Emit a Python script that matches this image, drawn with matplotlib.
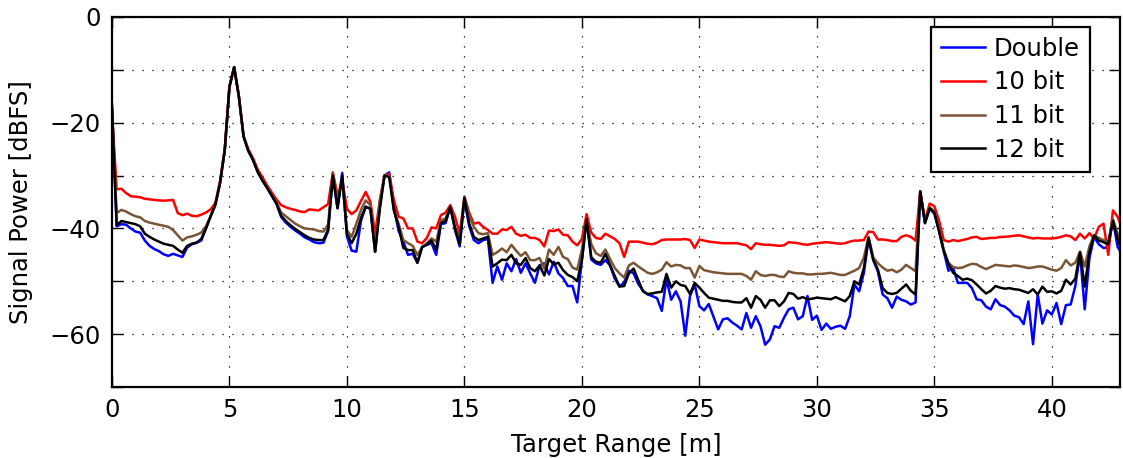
import numpy as np
import matplotlib
matplotlib.use("Agg")
import matplotlib.pyplot as plt
from matplotlib.ticker import MultipleLocator, FuncFormatter

# target range grid [m], one sample every 0.2 m
step_m = 0.2
n_pts = 216
range_m = np.arange(n_pts) * step_m

# signal power [dBFS]
double = [
    -16.5, -39.6, -39.2, -39.3, -40.0, -40.6, -40.8, -42.3, -43.3, -43.9,
    -44.3, -44.9, -45.2, -44.8, -45.1, -45.4, -43.6, -43.0, -42.7, -42.3,
    -40.0, -37.7, -35.5, -31.4, -25.2, -13.2, -9.5, -15.0, -22.6, -25.3,
    -27.0, -29.3, -30.9, -32.3, -33.8, -35.3, -37.8, -38.9, -39.7, -40.4,
    -41.0, -41.7, -42.1, -42.6, -42.8, -42.7, -40.5, -30.0, -36.2, -29.5,
    -41.5, -44.2, -44.4, -38.5, -35.9, -36.3, -44.4, -35.6, -30.0, -29.4,
    -36.0, -40.5, -42.5, -45.0, -44.8, -46.5, -43.5, -43.1, -42.8, -45.0,
    -39.2, -39.0, -35.9, -40.3, -43.4, -34.5, -39.5, -42.2, -42.8, -42.2,
    -42.0, -50.3, -47.2, -49.7, -46.6, -48.1, -45.8, -48.4, -46.6, -48.5,
    -50.3, -47.0, -46.6, -48.7, -46.3, -48.5, -49.4, -50.9, -50.9, -54.0,
    -46.0, -38.3, -45.9, -46.6, -46.9, -46.0, -47.0, -49.5, -51.0, -50.2,
    -48.0, -48.5, -50.5, -51.8, -52.5, -52.8, -53.2, -55.6, -49.6, -53.5,
    -51.9, -53.8, -60.3, -52.8, -50.6, -54.7, -55.5, -54.3, -56.7, -59.1,
    -57.2, -57.0, -57.8, -58.4, -59.1, -56.0, -58.8, -56.6, -58.5, -62.0,
    -61.0, -58.5, -58.8, -56.9, -55.3, -55.0, -57.2, -56.6, -52.8, -57.3,
    -56.5, -59.2, -58.0, -59.0, -58.6, -58.4, -59.0, -56.6, -50.6, -51.9,
    -48.4, -42.0, -46.0, -48.2, -52.5, -53.2, -55.0, -52.9, -53.5, -53.8,
    -54.4, -54.0, -33.0, -39.0, -36.3, -37.2, -40.5, -44.3, -48.0, -47.5,
    -50.3, -50.3, -50.3, -51.3, -53.4, -53.6, -54.8, -55.3, -53.4, -54.5,
    -54.8, -55.5, -56.5, -56.8, -58.1, -53.8, -61.9, -52.5, -58.0, -55.5,
    -56.3, -54.1, -58.1, -54.5, -54.4, -50.9, -44.7, -55.3, -45.6, -41.6,
    -43.0, -43.7, -43.6, -38.4, -43.5, -45.0,
]

bit10 = [
    -18.0, -32.6, -32.5, -33.3, -33.9, -34.0, -34.1, -34.4, -34.5, -34.6,
    -34.7, -34.75, -34.7, -34.6, -37.1, -37.5, -37.2, -37.6, -37.7, -37.4,
    -37.0, -36.4, -35.2, -31.0, -25.0, -13.2, -9.5, -15.0, -22.5, -25.0,
    -26.7, -28.8, -30.3, -31.8, -33.2, -34.5, -35.6, -36.0, -36.3, -36.5,
    -36.8, -36.9, -36.4, -36.5, -36.6, -36.0, -35.4, -29.4, -33.75, -31.0,
    -36.3, -37.3, -36.6, -34.8, -33.1, -35.0, -41.0, -34.7, -30.0, -29.7,
    -34.7, -37.8, -38.1, -40.0, -40.0, -42.5, -42.8, -41.8, -39.8, -40.0,
    -37.5, -37.0, -35.6, -37.8, -41.0, -34.0, -37.0, -39.1, -38.9, -39.7,
    -40.3, -41.0, -41.0, -40.2, -40.3, -39.7, -41.0, -41.4, -41.2, -41.8,
    -41.8, -42.2, -43.4, -40.4, -40.5, -40.2, -41.2, -41.3, -42.5, -43.2,
    -42.0, -37.3, -40.8, -41.8, -42.0, -41.0, -41.5, -42.0, -42.8, -45.4,
    -42.5, -42.5, -42.5, -42.7, -42.9, -43.0, -42.7, -42.2, -42.1, -42.1,
    -42.1, -42.1, -42.0, -42.2, -43.7, -42.1, -42.3, -42.5, -42.6, -42.7,
    -42.8, -42.8, -42.8, -42.8, -43.0, -43.2, -43.9, -42.8, -43.0, -43.1,
    -43.1, -43.2, -43.3, -43.2, -42.6, -42.7, -42.8, -43.0, -43.1, -42.9,
    -42.8, -42.7, -42.6, -42.7, -42.8, -42.9, -42.8, -42.5, -42.3, -42.3,
    -42.2, -40.6, -40.7, -42.1, -42.1, -42.2, -42.4, -42.4, -41.6, -41.3,
    -41.6, -42.3, -33.0, -38.5, -35.3, -35.8, -38.5, -42.2, -42.5, -42.2,
    -42.4, -42.2, -42.0, -41.7, -41.6, -42.0, -41.9, -41.8, -41.8, -41.6,
    -41.6, -41.5, -41.4, -41.3, -41.5, -41.7, -41.9, -41.8, -41.9, -41.9,
    -41.9, -41.8, -41.6, -41.3, -41.5, -42.2, -41.0, -41.9, -40.9, -41.9,
    -39.7, -39.1, -45.0, -36.6, -37.8, -40.0,
]

bit11 = [
    -17.5, -37.1, -36.5, -36.8, -37.3, -37.7, -37.9, -38.6, -38.9, -39.1,
    -39.3, -39.5, -39.7, -40.3, -41.3, -42.3, -41.7, -41.5, -41.2, -40.8,
    -39.6, -37.7, -35.5, -31.4, -25.2, -13.2, -9.5, -15.0, -22.6, -25.2,
    -27.0, -29.2, -30.8, -32.1, -33.6, -35.0, -37.0, -37.7, -38.4, -39.1,
    -39.6, -40.0, -40.1, -40.2, -40.5, -40.6, -39.3, -29.5, -34.7, -30.9,
    -40.3, -41.6, -39.1, -36.5, -34.7, -35.6, -44.4, -34.7, -30.0, -30.0,
    -36.6, -39.1, -42.2, -42.8, -43.3, -45.0, -43.6, -42.8, -41.9, -42.5,
    -38.5, -38.1, -35.9, -39.7, -42.0, -34.0, -37.5, -39.7, -40.9, -41.1,
    -40.9, -45.0, -44.5, -43.8, -44.5, -43.1, -44.2, -45.2, -44.5, -46.0,
    -46.0, -45.6, -47.6, -44.0, -45.0, -43.5, -45.4, -45.8, -47.4, -47.8,
    -44.0, -38.3, -43.0, -44.7, -45.2, -44.0, -45.8, -47.5, -48.5, -49.3,
    -47.0, -46.5, -47.2, -47.8, -48.4, -48.6, -48.3, -47.8, -46.4, -47.2,
    -46.9, -47.0, -47.5, -47.5, -49.3, -47.1, -47.9, -48.1, -48.3, -48.4,
    -48.5, -48.6, -48.6, -48.6, -48.6, -49.0, -49.7, -48.1, -48.8, -49.0,
    -48.8, -48.8, -49.1, -49.2, -48.1, -48.4, -48.5, -48.5, -48.7, -48.7,
    -48.6, -48.6, -48.5, -48.4, -48.6, -48.8, -48.8, -48.4, -48.0, -47.5,
    -45.5, -41.6, -45.5, -46.6, -47.4, -48.0, -47.8, -48.3, -47.8, -46.9,
    -47.5, -48.1, -33.0, -38.8, -36.0, -36.8, -40.0, -44.0, -46.5, -47.3,
    -47.5, -47.4, -47.0, -46.7, -46.8, -47.3, -47.7, -47.3, -46.9, -47.0,
    -47.1, -47.2, -47.0, -47.1, -47.3, -47.5, -47.4, -47.2, -47.2, -47.5,
    -47.8, -48.0, -47.5, -46.0, -47.0, -46.5, -44.4, -47.2, -43.4, -41.3,
    -41.8, -42.2, -42.5, -38.2, -41.0, -43.8,
]

bit12 = [
    -17.0, -39.4, -38.6, -38.8, -39.0, -39.2, -39.6, -41.0, -41.6, -42.1,
    -42.5, -42.9, -43.1, -43.3, -44.0, -44.6, -43.3, -42.9, -42.7, -42.0,
    -40.0, -37.7, -35.5, -31.4, -25.2, -13.2, -9.5, -15.0, -22.6, -25.3,
    -27.0, -29.3, -30.9, -32.3, -33.8, -35.3, -37.6, -38.6, -39.4, -40.1,
    -40.7, -41.3, -41.8, -42.1, -42.2, -42.2, -40.2, -30.0, -36.2, -30.0,
    -41.0, -42.8, -41.0, -38.0, -35.9, -36.3, -44.4, -36.4, -30.0, -30.3,
    -36.6, -39.7, -43.7, -44.1, -44.1, -46.5, -43.5, -43.1, -42.3, -44.0,
    -39.0, -38.6, -35.9, -40.0, -43.0, -34.2, -39.0, -41.6, -42.2, -41.9,
    -41.6, -47.2, -46.6, -45.9, -46.0, -45.0, -46.6, -46.9, -45.6, -47.5,
    -48.1, -47.0, -48.9, -45.8, -46.8, -46.5, -47.9, -48.8, -49.2, -50.0,
    -46.0, -38.3, -45.5, -46.3, -46.5, -44.8, -47.0, -49.0, -51.0, -50.9,
    -48.5, -47.6, -49.8, -51.9, -52.4, -52.3, -52.1, -52.0, -48.6, -51.2,
    -50.0, -50.7, -50.9, -52.4, -50.3, -51.2, -52.2, -53.1, -53.3, -53.5,
    -53.7, -53.7, -53.9, -54.0, -54.0, -53.2, -55.0, -52.8, -53.5, -55.0,
    -53.6, -53.6, -54.7, -53.8, -52.2, -52.4, -53.3, -53.0, -53.4, -53.3,
    -53.1, -53.2, -53.3, -53.4, -53.0, -53.4, -53.8, -52.8, -50.0, -50.6,
    -47.5, -41.8, -45.9, -47.8, -51.3, -52.2, -52.4, -52.2, -51.4, -50.6,
    -51.8, -52.5, -33.0, -39.0, -36.2, -37.0, -40.5, -44.3, -46.7, -48.4,
    -49.0, -49.7, -49.5, -49.8, -50.6, -51.5, -52.3, -51.8, -50.9, -51.2,
    -51.4, -51.3, -51.5, -51.6, -51.9, -52.2, -51.5, -52.5, -51.0, -52.0,
    -51.9, -52.3, -51.8, -49.7, -50.6, -49.5, -44.5, -51.0, -44.5, -41.3,
    -42.3, -42.6, -43.0, -38.6, -42.0, -44.4,
]

series = [
    ("Double", double, "#0000ff"),
    ("10 bit", bit10, "#ff0000"),
    ("11 bit", bit11, "#7a5535"),
    ("12 bit", bit12, "#000000"),
]

plt.rcParams["font.family"] = ["DejaVu Sans"]
plt.rcParams["font.size"] = 17.5

fig = plt.figure(figsize=(11.23, 4.58), dpi=100)
ax = fig.add_axes([0.0997, 0.155, 0.8976, 0.808])

for name, vals, col in series:
    ax.plot(range_m, vals, color=col, lw=1.8, label=name)

ax.set_xlim(0, 42.9)
ax.set_ylim(-70, 0)
ax.xaxis.set_major_locator(MultipleLocator(5))
ax.yaxis.set_major_locator(MultipleLocator(10))
ax.yaxis.set_major_formatter(FuncFormatter(
    lambda v, p: ("%d" % v).replace("-", "\u2212") if round(v) % 20 == 0 else ""))

ax.grid(True, color="black", lw=0.9, linestyle=(0, (1, 7)))
ax.tick_params(direction="in", length=8, width=1, top=True, right=True,
               labelsize=17.5, pad=8)
for sp in ax.spines.values():
    sp.set_linewidth(1.6)

ax.set_xlabel("Target Range [m]", fontsize=17.5, labelpad=8)
ax.set_ylabel("Signal Power [dBFS]", fontsize=17.5, labelpad=12)

leg = ax.legend(loc="upper right", bbox_to_anchor=(0.970, 0.973),
                borderaxespad=0, fancybox=False, framealpha=1,
                edgecolor="black", fontsize=17.5, handlelength=1.85,
                labelspacing=0.4, borderpad=0.4, handletextpad=0.35)
leg.get_frame().set_linewidth(1.6)

fig.savefig("out.png", dpi=100)
